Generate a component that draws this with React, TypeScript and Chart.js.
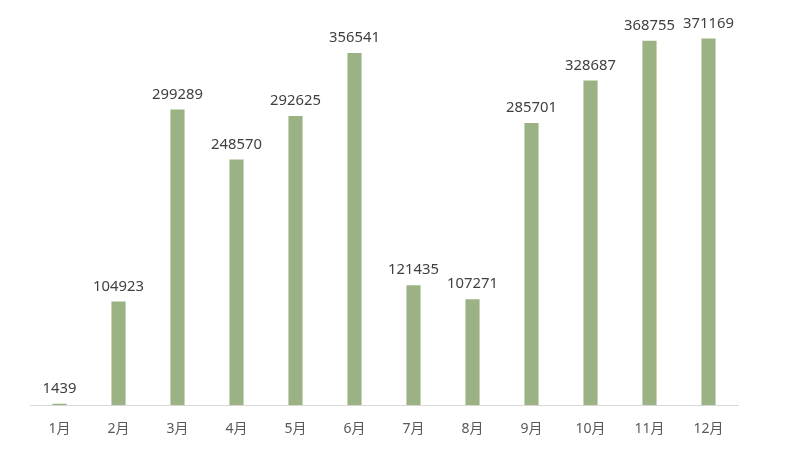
import React, { useEffect, useRef } from "react";
import { Chart, registerables } from "chart.js";

Chart.register(...registerables);

const categories = ["1月", "2月", "3月", "4月", "5月", "6月", "7月", "8月", "9月", "10月", "11月", "12月"];
const values = [1439, 104923, 299289, 248570, 292625, 356541, 121435, 107271, 285701, 328687, 368755, 371169];

const FONT = "'Noto Sans', 'Noto Sans CJK SC', sans-serif";

const valueLabels = {
  id: "valueLabels",
  afterDatasetsDraw(chart: any) {
    const ctx = chart.ctx;
    const meta = chart.getDatasetMeta(0);
    ctx.save();
    ctx.font = `14.8px ${FONT}`;
    ctx.fillStyle = "#404040";
    ctx.textAlign = "center";
    ctx.textBaseline = "middle";
    meta.data.forEach((bar: any, i: number) => {
      ctx.fillText(String(values[i]), bar.x, bar.y - 15);
    });
    ctx.restore();
  },
};

export default function App() {
  const ref = useRef<HTMLCanvasElement>(null);
  useEffect(() => {
    if (!ref.current) return;
    const chart = new Chart(ref.current, {
      type: "bar",
      data: {
        labels: categories,
        datasets: [
          {
            data: values,
            backgroundColor: "#9BB384",
            categoryPercentage: 1,
            barPercentage: 0.24,
          },
        ],
      },
      options: {
        animation: false,
        responsive: true,
        maintainAspectRatio: false,
        layout: { padding: { left: 30, right: 47, top: 10, bottom: 11 } },
        plugins: { legend: { display: false }, tooltip: { enabled: false } },
        scales: {
          x: {
            grid: { display: false, drawTicks: false },
            border: { display: true, color: "#D9D9D9", width: 1 },
            ticks: { color: "#595959", font: { size: 14, family: FONT }, padding: 15 },
          },
          y: {
            display: false,
            min: 0,
            max: 400000,
          },
        },
      },
      plugins: [valueLabels],
    });
    return () => chart.destroy();
  }, []);
  return (
    <div style={{ position: "fixed", left: 0, top: 0, width: 785, height: 463, background: "#fff" }}>
      <canvas ref={ref} />
    </div>
  );
}
